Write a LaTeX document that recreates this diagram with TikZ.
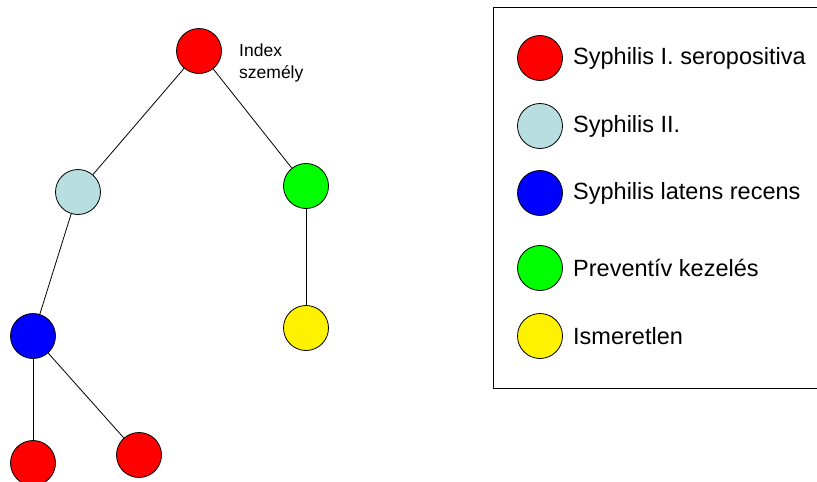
\documentclass[tikz,border=0pt]{standalone}
\usepackage{fontspec}
\setmainfont{Liberation Sans}
\definecolor{lightcyan}{RGB}{185,222,225}
\begin{document}
\begin{tikzpicture}[x=1pt,y=-1pt,
  person/.style={circle,draw=black,line width=0.8pt,minimum size=45pt,inner sep=0pt},
  link/.style={draw=black,line width=0.8pt},
  legendtext/.style={anchor=west,font=\fontsize{23.5}{28}\selectfont,inner sep=0pt}]
\useasboundingbox (0,0) rectangle (817,482);

% legend frame (runs off the right edge)
\draw[line width=0.9pt] (830,7) -- (493.5,7) -- (493.5,388) -- (830,388);

% family tree
\node[person,fill=red]        (idx) at (199,51) {};
\node[person,fill=lightcyan]  (c1)  at (78,192) {};
\node[person,fill=green]      (g1)  at (306,186) {};
\node[person,fill=blue]       (b1)  at (33,336) {};
\node[person,fill=yellow]     (y1)  at (306,328) {};
\node[person,fill=red]        (r1)  at (33,463) {};
\node[person,fill=red]        (r2)  at (139,455) {};

\node[anchor=north west,align=left,inner sep=0pt,
      font=\fontsize{17.5}{22}\selectfont] (lbl) at (239,44) {Index\\személy};

\draw[link] (idx) -- (c1);
\draw[link] (idx) -- (g1);
\draw[link] (c1) -- (b1);
\draw[link] (g1) -- (y1);
\draw[link] (b1) -- (r1);
\draw[link] (b1) -- (r2);

% legend entries
\node[person,fill=red]       (k1) at (540,58) {};
\node[person,fill=lightcyan] (k2) at (540,126) {};
\node[person,fill=blue]      (k3) at (540,193) {};
\node[person,fill=green]     (k4) at (540,268) {};
\node[person,fill=yellow]    (k5) at (540,336) {};
\node[legendtext] (t1) at (573,58)  {Syphilis I. seropositiva};
\node[legendtext] (t2) at (573,126) {Syphilis II.};
\node[legendtext] (t3) at (573,193) {Syphilis latens recens};
\node[legendtext] (t4) at (573,268) {Preventív kezelés};
\node[legendtext] (t5) at (573,336) {Ismeretlen};
\end{tikzpicture}
\end{document}
